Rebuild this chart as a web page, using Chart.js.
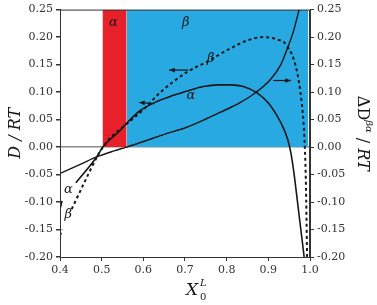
<!DOCTYPE html>
<html lang="en">
<head>
<meta charset="UTF-8">
<title>D/RT</title>
<script src="https://cdn.jsdelivr.net/npm/chart.js"></script>
<style>
  html, body { margin: 0; padding: 0; background: #fff; }
  #grafico { display: block; }
</style>
</head>
<body>
<canvas id="grafico" width="377" height="305"></canvas>
<script>
// curvas
const xAlpha = [0.400, 0.405, null, 0.438, 0.488, 0.503, 0.544, 0.562, 0.592, 0.630, 0.672, 0.710, 0.744, 0.780, 0.810, 0.840, 0.872, 0.900, 0.920, 0.936, 0.946, 0.954, 0.962, 0.970, 0.978, 0.986];
const yAlpha = [-0.113, -0.098, null, -0.065, -0.018, 0.000, 0.030, 0.045, 0.066, 0.082, 0.094, 0.103, 0.110, 0.113, 0.113, 0.110, 0.099, 0.080, 0.058, 0.035, 0.015, -0.010, -0.050, -0.100, -0.150, -0.200];

const xBeta = [0.400, 0.405, null, 0.428, 0.460, 0.491, 0.515, 0.560, 0.600, 0.640, 0.704, 0.752, 0.808, 0.850, 0.888, 0.920, 0.944, 0.968, 0.980, 0.986, 0.990, 0.993];
const yBeta = [-0.161, -0.150, null, -0.113, -0.062, -0.015, 0.012, 0.042, 0.068, 0.099, 0.136, 0.155, 0.179, 0.194, 0.200, 0.196, 0.185, 0.140, 0.081, 0.025, -0.060, -0.200];

const xDelta = [0.400, 0.450, 0.488, 0.530, 0.560, 0.604, 0.650, 0.704, 0.750, 0.784, 0.830, 0.864, 0.904, 0.930, 0.944, 0.960, 0.974];
const yDelta = [-0.048, -0.031, -0.018, -0.007, 0.000, 0.011, 0.023, 0.036, 0.051, 0.063, 0.080, 0.096, 0.122, 0.150, 0.176, 0.210, 0.250];

// faixas de fase
const faixaAlpha = [0.502, 0.560];
const faixaBeta = [0.560, 0.996];
const topoFaixa = 0.25;

const ticksX = [0.4, 0.5, 0.6, 0.7, 0.8, 0.9, 1.0];
const ticksY = [-0.20, -0.15, -0.10, -0.05, 0.00, 0.05, 0.10, 0.15, 0.20, 0.25];

// rotulos e setas (coordenadas de dados)
const rotulos = [
  { t: 'α', x: 0.528, y: 0.226 },
  { t: 'β', x: 0.702, y: 0.226 },
  { t: 'β', x: 0.762, y: 0.160 },
  { t: 'α', x: 0.714, y: 0.093 },
  { t: 'α', x: 0.420, y: -0.078 },
  { t: 'β', x: 0.420, y: -0.123 }
];
const setas = [
  { x1: 0.708, y1: 0.140, x2: 0.662, y2: 0.140 },
  { x1: 0.626, y1: 0.079, x2: 0.590, y2: 0.081 },
  { x1: 0.912, y1: 0.121, x2: 0.954, y2: 0.121 }
];

const serif = '"DejaVu Serif", "Liberation Serif", serif';
const tinta = '#161616';

function pontos(xs, ys) {
  return xs.map((x, i) => (x === null ? { x: null, y: null } : { x: x, y: ys[i] }));
}

const extras = {
  id: 'extras',
  afterDatasetsDraw(chart) {
    const c = chart.ctx, sx = chart.scales.x, sy = chart.scales.y, a = chart.chartArea;
    c.save();
    // moldura
    c.strokeStyle = '#333';
    c.lineWidth = 1;
    c.strokeRect(a.left + 0.5, a.top + 0.5, a.right - a.left - 1, a.bottom - a.top);
    // setas
    c.strokeStyle = tinta;
    c.fillStyle = tinta;
    c.lineWidth = 1.2;
    setas.forEach(s => {
      const x1 = sx.getPixelForValue(s.x1), y1 = sy.getPixelForValue(s.y1);
      const x2 = sx.getPixelForValue(s.x2), y2 = sy.getPixelForValue(s.y2);
      c.beginPath(); c.moveTo(x1, y1); c.lineTo(x2, y2); c.stroke();
      const ang = Math.atan2(y2 - y1, x2 - x1);
      c.beginPath();
      c.moveTo(x2, y2);
      c.lineTo(x2 - 6 * Math.cos(ang - 0.4), y2 - 6 * Math.sin(ang - 0.4));
      c.lineTo(x2 - 6 * Math.cos(ang + 0.4), y2 - 6 * Math.sin(ang + 0.4));
      c.closePath(); c.fill();
    });
    // rotulos
    c.font = 'italic 13px ' + serif;
    c.textAlign = 'center';
    c.textBaseline = 'middle';
    rotulos.forEach(r => {
      c.fillText(r.t, sx.getPixelForValue(r.x), sy.getPixelForValue(r.y));
    });
    // titulos dos eixos
    c.font = 'italic 16px ' + serif;
    c.save();
    c.translate(16, (a.top + a.bottom) / 2);
    c.rotate(-Math.PI / 2);
    c.fillText('D / RT', 0, 0);
    c.restore();

    c.save();
    c.translate(362, (a.top + a.bottom) / 2);
    c.rotate(Math.PI / 2);
    c.textAlign = 'left';
    const partes = [['ΔD', '16px', 0], ['βα', 'italic 10px', -7], [' / ', '16px', 0], ['RT', 'italic 16px', 0]];
    const total = partes.reduce((s, p) => { c.font = p[1] + ' ' + serif; return s + c.measureText(p[0]).width; }, 0);
    let w = -total / 2;
    partes.forEach(p => {
      c.font = p[1] + ' ' + serif;
      c.fillText(p[0], w, p[2]);
      w += c.measureText(p[0]).width;
    });
    c.restore();

    c.font = 'italic 17px ' + serif;
    c.textAlign = 'left';
    c.fillText('X', 186, 291);
    c.font = 'italic 10px ' + serif;
    c.fillText('L', 200, 283);
    c.font = '10px ' + serif;
    c.fillText('0', 200, 297);
    c.restore();
  }
};

const curva = { pointRadius: 0, cubicInterpolationMode: 'monotone', spanGaps: false, order: 1, borderColor: tinta };

new Chart(document.getElementById('grafico'), {
  type: 'line',
  data: {
    datasets: [
      { data: pontos(faixaAlpha, [topoFaixa, topoFaixa]), fill: 'origin', backgroundColor: '#e8202a', borderWidth: 0, pointRadius: 0, order: 5 },
      { data: pontos(faixaBeta, [topoFaixa, topoFaixa]), fill: 'origin', backgroundColor: '#29a9e1', borderWidth: 0, pointRadius: 0, order: 5 },
      { ...curva, data: pontos(xAlpha, yAlpha), borderWidth: 1.6 },
      { ...curva, data: pontos(xBeta, yBeta), borderWidth: 2, borderDash: [3, 3] },
      { ...curva, data: pontos(xDelta, yDelta), yAxisID: 'y2', borderWidth: 1.4 }
    ]
  },
  options: {
    responsive: false,
    animation: false,
    devicePixelRatio: 1,
    layout: { padding: { top: 6, left: 0, right: 0, bottom: 0 } },
    plugins: { legend: { display: false }, tooltip: { enabled: false } },
    scales: {
      x: {
        type: 'linear', min: 0.4, max: 1.0,
        afterBuildTicks: s => { s.ticks = ticksX.map(v => ({ value: v })); },
        afterFit: s => { s.height = 48; },
        grid: { drawOnChartArea: false, color: '#333', tickLength: 4 },
        border: { color: '#333' },
        ticks: { color: '#333', font: { family: serif, size: 11 }, padding: 3, autoSkip: false, maxRotation: 0, callback: v => v.toFixed(1) }
      },
      y: {
        min: -0.2, max: 0.25,
        afterBuildTicks: s => { s.ticks = ticksY.map(v => ({ value: v })); },
        afterFit: s => { s.width = 60; },
        grid: {
          drawOnChartArea: true,
          color: ctx => (ctx.tick && Math.abs(ctx.tick.value) < 1e-9 ? '#8a8a8a' : 'rgba(0,0,0,0)'),
          tickColor: '#333',
          lineWidth: 1.5,
          tickLength: 4
        },
        border: { color: '#333' },
        ticks: { color: '#333', font: { family: serif, size: 11 }, padding: 3, autoSkip: false, callback: v => v.toFixed(2) }
      },
      y2: {
        position: 'right',
        min: -0.2, max: 0.25,
        afterBuildTicks: s => { s.ticks = ticksY.map(v => ({ value: v })); },
        afterFit: s => { s.width = 67; },
        grid: { drawOnChartArea: false, color: '#333', tickLength: 4 },
        border: { color: '#333' },
        ticks: { color: '#333', font: { family: serif, size: 11 }, padding: 3, autoSkip: false, callback: v => v.toFixed(2) }
      }
    }
  },
  plugins: [extras]
});
</script>
</body>
</html>
